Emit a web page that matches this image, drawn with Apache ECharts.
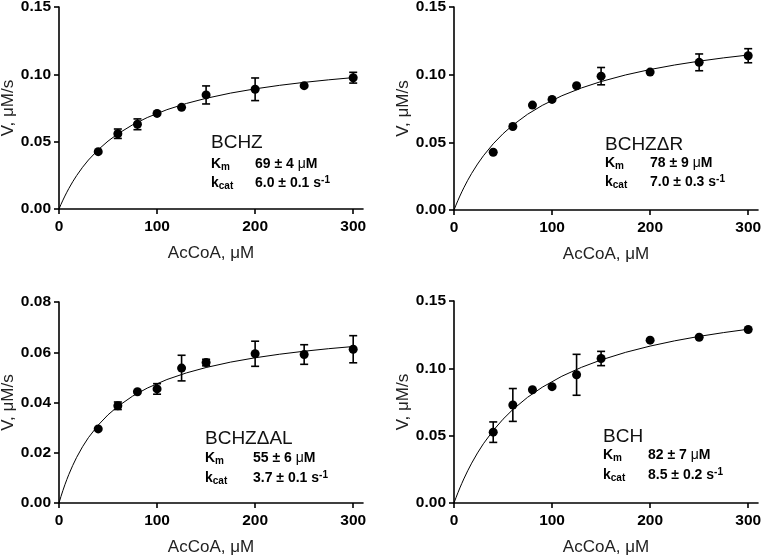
<!DOCTYPE html>
<html>
<head>
<meta charset="utf-8">
<script src="https://cdn.jsdelivr.net/npm/echarts@6/dist/echarts.min.js"></script>
<style>
html,body{margin:0;padding:0;background:#fff;}
#chart{width:762px;height:557px;}
</style>
</head>
<body>
<div id="chart"></div>
<script>
// ---- data ----
const substrateX = [40, 60, 80, 100, 125, 150, 200, 250, 300];
const fitX = [0, 2, 4, 6, 8, 10, 14, 18, 24, 30, 40, 50, 60, 75, 90, 110, 130, 150, 175, 200, 225, 250, 275, 300];

const bchzV   = [0.0426, 0.0559, 0.0629, 0.0710, 0.0755, 0.0847, 0.0889, 0.0916, 0.0975];
const bchzErr = [0, 0.0035, 0.0040, 0, 0, 0.0067, 0.0084, 0, 0.0040];
const bchzFit = [0, 0.00338, 0.00658, 0.00960, 0.01247, 0.01519, 0.02024, 0.02483, 0.03097, 0.03636, 0.04404, 0.05042,
  0.05581, 0.0625, 0.06792, 0.07374, 0.07839, 0.08219, 0.08607, 0.08922, 0.09184, 0.09404, 0.09593, 0.09756];

const bchzdrV   = [0.0427, 0.0617, 0.0775, 0.0817, 0.0918, 0.0989, 0.1019, 0.1091, 0.1140];
const bchzdrErr = [0, 0, 0, 0, 0, 0.0064, 0, 0.0062, 0.0052];
const bchzdrFit = [0, 0.00361, 0.00704, 0.01031, 0.01342, 0.0164, 0.02196, 0.02706, 0.03395, 0.04008, 0.04892, 0.05637,
  0.06274, 0.07074, 0.0773, 0.08443, 0.09019, 0.09493, 0.09981, 0.10381, 0.10715, 0.10998, 0.11242, 0.11452];

const bchzdalV   = [0.0295, 0.0387, 0.0443, 0.0454, 0.0537, 0.0559, 0.0594, 0.0591, 0.0612];
const bchzdalErr = [0, 0.0015, 0, 0.0021, 0.0051, 0.0013, 0.0050, 0.0039, 0.0054];
const bchzdalFit = [0, 0.00259, 0.005, 0.00725, 0.00936, 0.01134, 0.01495, 0.01817, 0.02239, 0.02601, 0.03103, 0.0351,
  0.03845, 0.04252, 0.04574, 0.04913, 0.05179, 0.05393, 0.05608, 0.0578, 0.05922, 0.06041, 0.06142, 0.06228];

const bchV   = [0.0526, 0.0728, 0.0841, 0.0864, 0.0952, 0.1073, 0.1209, 0.1231, 0.1288];
const bchErr = [0.0076, 0.0122, 0, 0, 0.0152, 0.0053, 0, 0, 0];
const bchFit = [0, 0.00391, 0.00764, 0.0112, 0.0146, 0.01786, 0.02396, 0.02957, 0.0372, 0.04401, 0.05387, 0.06223,
  0.06942, 0.07849, 0.08597, 0.09413, 0.10075, 0.10623, 0.11188, 0.11652, 0.12042, 0.12372, 0.12656, 0.12903];

const xTicks = [0, 100, 200, 300];
const yMaxes = [0.15, 0.15, 0.08, 0.15];
const yIntervals = [0.05, 0.05, 0.02, 0.05];

const panelNames = ['BCHZ', 'BCHZ\u0394R', 'BCHZ\u0394AL', 'BCH'];
const kmText = ['69 \u00b1 4', '78 \u00b1 9', '55 \u00b1 6', '82 \u00b1 7'];
const kcatText = ['6.0 \u00b1 0.1', '7.0 \u00b1 0.3', '3.7 \u00b1 0.1', '8.5 \u00b1 0.2'];

const xAxisName = 'AcCoA, \u03bcM';
const yAxisName = 'V, \u03bcM/s';

// ---- layout ----
const FONT = "'Liberation Sans', Arial, Helvetica, sans-serif";
const panels = [
  {v: bchzV, e: bchzErr, f: bchzFit},
  {v: bchzdrV, e: bchzdrErr, f: bchzdrFit},
  {v: bchzdalV, e: bchzdalErr, f: bchzdalFit},
  {v: bchV, e: bchErr, f: bchFit}
];
const grids = [
  {left: 59, top: 7, width: 304, height: 202},
  {left: 454, top: 7, width: 304, height: 203},
  {left: 59, top: 302, width: 304, height: 201},
  {left: 454, top: 301, width: 304, height: 202}
];
// annotation anchor: left x, name baseline, Km baseline, kcat baseline, value x
const annot = [
  [211, 149, 169, 188, 255],
  [605, 151, 168, 187, 650],
  [205, 445, 463, 483, 253],
  [603, 443, 460, 480, 648]
];

const axisLineStyle = {color: '#000', width: 1.6};

const option = {
  backgroundColor: '#fff',
  animation: false,
  grid: grids.map(g => Object.assign({containLabel: false, outerBoundsMode: 'none'}, g)),
  xAxis: grids.map((g, i) => ({
    type: 'value', gridIndex: i, min: 0, max: 310, interval: 100,
    axisLine: {show: true, onZero: false, lineStyle: axisLineStyle},
    axisTick: {show: true, length: 5, lineStyle: axisLineStyle, customValues: xTicks},
    axisLabel: {customValues: xTicks, margin: 10, color: '#000', fontFamily: FONT, fontWeight: 'bold', fontSize: 15.5},
    splitLine: {show: false},
    name: xAxisName, nameLocation: 'middle', nameGap: 36,
    nameTextStyle: {color: '#222', fontFamily: FONT, fontSize: 17}
  })),
  yAxis: grids.map((g, i) => ({
    type: 'value', gridIndex: i, min: 0, max: yMaxes[i], interval: yIntervals[i],
    axisLine: {show: true, onZero: false, lineStyle: axisLineStyle},
    axisTick: {show: true, length: 5, lineStyle: axisLineStyle},
    axisLabel: {margin: 8, color: '#000', fontFamily: FONT, fontWeight: 'bold', fontSize: 15.5,
      formatter: v => v.toFixed(2)},
    splitLine: {show: false},
    name: yAxisName, nameLocation: 'middle', nameGap: 41,
    nameTextStyle: {color: '#222', fontFamily: FONT, fontSize: 17}
  })),
  series: []
};

panels.forEach((p, i) => {
  option.series.push({
    type: 'line', xAxisIndex: i, yAxisIndex: i,
    data: fitX.map((x, k) => [x, p.f[k]]),
    smooth: false, showSymbol: false, symbol: 'none',
    lineStyle: {color: '#000', width: 1}, z: 2, silent: true
  });
  option.series.push({
    type: 'custom', xAxisIndex: i, yAxisIndex: i,
    data: substrateX.map((x, k) => [x, p.v[k], p.e[k]]),
    encode: {x: 0, y: 1},
    renderItem: function (params, api) {
      const x = api.value(0), y = api.value(1), e = api.value(2);
      if (!e) return null;
      const top = api.coord([x, y + e]);
      const bot = api.coord([x, y - e]);
      const hw = 4;
      const st = {stroke: '#000', lineWidth: 1.6};
      return {
        type: 'group',
        children: [
          {type: 'line', shape: {x1: top[0], y1: top[1], x2: bot[0], y2: bot[1]}, style: st},
          {type: 'line', shape: {x1: top[0] - hw, y1: top[1], x2: top[0] + hw, y2: top[1]}, style: st},
          {type: 'line', shape: {x1: bot[0] - hw, y1: bot[1], x2: bot[0] + hw, y2: bot[1]}, style: st}
        ]
      };
    },
    z: 3, silent: true
  });
  option.series.push({
    type: 'scatter', xAxisIndex: i, yAxisIndex: i,
    data: substrateX.map((x, k) => [x, p.v[k]]),
    symbol: 'circle', symbolSize: 9,
    itemStyle: {color: '#000', opacity: 1}, z: 4, silent: true
  });
});

// annotations
const graphics = [];
const richTokens = {
  b: {fontFamily: FONT, fontWeight: 'bold', fontSize: 14, lineHeight: 16, fill: '#000', color: '#000'},
  u: {fontFamily: FONT, fontWeight: 'normal', fontSize: 14, lineHeight: 16, fill: '#000', color: '#000'},
  sub: {fontFamily: FONT, fontWeight: 'bold', fontSize: 10, lineHeight: 10, verticalAlign: 'bottom', fill: '#000', color: '#000'},
  sup: {fontFamily: FONT, fontWeight: 'bold', fontSize: 10, lineHeight: 10, verticalAlign: 'top', fill: '#000', color: '#000'}
};
function txt(x, y, text, extra) {
  return {
    type: 'text', x: x, y: y, silent: true,
    style: Object.assign({text: text, fill: '#000', textAlign: 'left', verticalAlign: 'middle', textVerticalAlign: 'middle',
      font: '14px ' + FONT, rich: richTokens}, extra || {})
  };
}
annot.forEach((a, i) => {
  const [lx, nb, kb, cb, vx] = a;
  graphics.push(txt(lx, nb - 6.5, panelNames[i], {font: '19px ' + FONT, fill: '#111'}));
  graphics.push(txt(lx, kb - 4.6, '{b|K}{sub|m}'));
  graphics.push(txt(vx, kb - 4.6, '{b|' + kmText[i] + ' }{u|\u03bc}{b|M}'));
  graphics.push(txt(lx, cb - 4.6, '{b|k}{sub|cat}'));
  graphics.push(txt(vx, cb - 4.6, '{b|' + kcatText[i] + ' s}{sup|-1}'));
});
option.graphic = graphics;

const chart = echarts.init(document.getElementById('chart'), null, {renderer: 'canvas'});
chart.setOption(option);
</script>
</body>
</html>
